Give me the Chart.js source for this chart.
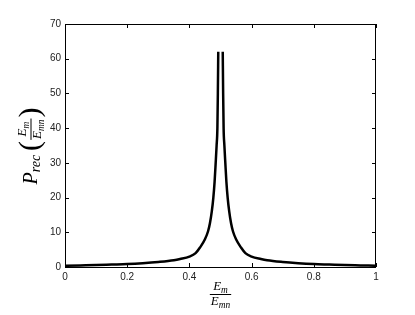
<!DOCTYPE html>
<html>
<head>
<meta charset="utf-8">
<script src="https://cdn.jsdelivr.net/npm/chart.js@4.4.0/dist/chart.umd.min.js"></script>
<style>
  html, body { margin: 0; padding: 0; background: #fff; }
  #wrap { width: 415px; height: 315px; }
</style>
</head>
<body>
<div id="wrap"><canvas id="chart"></canvas></div>
<script>
// values; null at 0.5 leaves the gap between the two spikes
const xValues = [0, 0.05, 0.1, 0.15, 0.2, 0.25, 0.3, 0.35, 0.37, 0.4, 0.42, 0.434, 0.45, 0.46, 0.466, 0.472, 0.477, 0.481, 0.4845, 0.4875, 0.49, 0.4915, 0.4928,
  0.5,
  0.5072, 0.5085, 0.51, 0.5125, 0.5155, 0.519, 0.523, 0.528, 0.534, 0.54, 0.55, 0.566, 0.58, 0.6, 0.63, 0.65, 0.7, 0.75, 0.8, 0.85, 0.9, 0.95, 1];
const yValues = [0.35, 0.45, 0.55, 0.7, 0.85, 1.1, 1.45, 1.95, 2.3, 3.0, 4.0, 5.6, 8.0, 10.3, 12.6, 16, 20, 24.5, 30, 35, 40, 50, 62,
  null,
  62, 50, 40, 35, 30, 24.5, 20, 16, 12.6, 10.3, 8.0, 5.6, 4.0, 3.0, 2.3, 1.95, 1.45, 1.1, 0.85, 0.7, 0.55, 0.45, 0.35];
const xTicks = [0, 0.2, 0.4, 0.6, 0.8, 1];
const yTicks = [0, 10, 20, 30, 40, 50, 60, 70];

const points = xValues.map((x, i) => ({ x: x, y: yValues[i] }));

const serif = '"Liberation Serif", "Times New Roman", serif';
const italic = (size) => "italic " + size + "px " + serif;

function termWidth(ctx, main, sub, size) {
  ctx.font = italic(size);
  let w = ctx.measureText(main).width;
  ctx.font = italic(size * 0.72);
  return w + ctx.measureText(sub).width;
}

function drawTerm(ctx, main, sub, x, y, size) {
  ctx.font = italic(size);
  ctx.fillText(main, x, y);
  const w = ctx.measureText(main).width;
  ctx.font = italic(size * 0.72);
  ctx.fillText(sub, x + w, y + size * 0.22);
}

function drawFrac(ctx, left, barY, size) {
  const wn = termWidth(ctx, "E", "m", size);
  const wd = termWidth(ctx, "E", "mn", size);
  const w = Math.max(wn, wd) + 2;
  drawTerm(ctx, "E", "m", left + (w - wn) / 2, barY - size * 0.35, size);
  drawTerm(ctx, "E", "mn", left + (w - wd) / 2, barY + size * 0.8, size);
  ctx.fillRect(left, barY - 0.5, w, 1);
  return w;
}

const frameAndTitles = {
  id: "frameAndTitles",
  afterDraw(chart) {
    const { ctx, chartArea: a, scales } = chart;
    ctx.save();
    ctx.strokeStyle = "#000";
    ctx.lineWidth = 1;
    ctx.strokeRect(a.left + 0.5, a.top + 0.5, a.right - a.left - 1, a.bottom - a.top);
    // inside ticks on all four sides
    ctx.beginPath();
    xTicks.forEach((v) => {
      const px = Math.round(scales.x.getPixelForValue(v)) + 0.5;
      ctx.moveTo(px, a.bottom); ctx.lineTo(px, a.bottom - 4);
      ctx.moveTo(px, a.top); ctx.lineTo(px, a.top + 4);
    });
    yTicks.forEach((v) => {
      const py = Math.round(scales.y.getPixelForValue(v)) + 0.5;
      ctx.moveTo(a.left, py); ctx.lineTo(a.left + 4, py);
      ctx.moveTo(a.right, py); ctx.lineTo(a.right - 4, py);
    });
    ctx.stroke();

    ctx.fillStyle = "#000";
    ctx.textBaseline = "alphabetic";
    ctx.textAlign = "left";

    // x title: Em / Emn
    const size = 13;
    const wx = termWidth(ctx, "E", "mn", size) + 2;
    drawFrac(ctx, (a.left + a.right) / 2 - wx / 2, 294.5, size);

    // y title: P_rec (Em / Emn), rotated
    ctx.translate(37, 146);
    ctx.rotate(-Math.PI / 2);
    ctx.font = italic(20);
    const wP = ctx.measureText("P").width;
    ctx.font = italic(14);
    const wRec = ctx.measureText("rec").width;
    ctx.font = "30px " + serif;
    const wPar = ctx.measureText("(").width;
    const wF = termWidth(ctx, "E", "mn", size) + 2;
    const total = wP + wRec + 4 + wPar * 2 + wF + 2;
    let u = -total / 2;
    ctx.font = italic(20);
    ctx.fillText("P", u, 0);
    u += wP;
    ctx.font = italic(14);
    ctx.fillText("rec", u, 3);
    u += wRec + 4;
    ctx.font = "30px " + serif;
    ctx.fillText("(", u, 2);
    u += wPar + 1;
    u += drawFrac(ctx, u, -6, size) + 1;
    ctx.font = "30px " + serif;
    ctx.fillText(")", u, 2);
    ctx.restore();
  }
};

const ctx = document.getElementById("chart").getContext("2d");

const chart = new Chart(ctx, {
  type: "scatter",
  data: {
    datasets: [
      {
        data: points,
        showLine: true,
        spanGaps: false,
        borderColor: "#000",
        borderWidth: 2.5,
        pointRadius: 0,
        cubicInterpolationMode: "monotone",
      },
    ],
  },
  options: {
    responsive: true,
    maintainAspectRatio: false,
    animation: false,
    layout: { padding: { top: 24, right: 39, left: 0, bottom: 0 } },
    plugins: {
      legend: { display: false },
      tooltip: { enabled: false },
    },
    scales: {
      x: {
        type: "linear",
        min: 0,
        max: 1,
        afterBuildTicks: (scale) => { scale.ticks = xTicks.map((v) => ({ value: v })); },
        afterFit: (scale) => { scale.height = 48; },
        grid: { display: false, drawTicks: false, tickLength: 0 },
        border: { display: false },
        ticks: {
          color: "#222",
          padding: 4,
          font: { family: '"Liberation Sans", Arial, sans-serif', size: 10 },
          maxRotation: 0,
          callback: (v) => String(v),
        },
      },
      y: {
        type: "linear",
        min: 0,
        max: 70,
        afterBuildTicks: (scale) => { scale.ticks = yTicks.map((v) => ({ value: v })); },
        afterFit: (scale) => { scale.width = 65; },
        grid: { display: false, drawTicks: false, tickLength: 0 },
        border: { display: false },
        ticks: {
          color: "#222",
          padding: 4,
          font: { family: '"Liberation Sans", Arial, sans-serif', size: 10 },
          callback: (v) => String(v),
        },
      },
    },
  },
  plugins: [frameAndTitles],
});
</script>
</body>
</html>
